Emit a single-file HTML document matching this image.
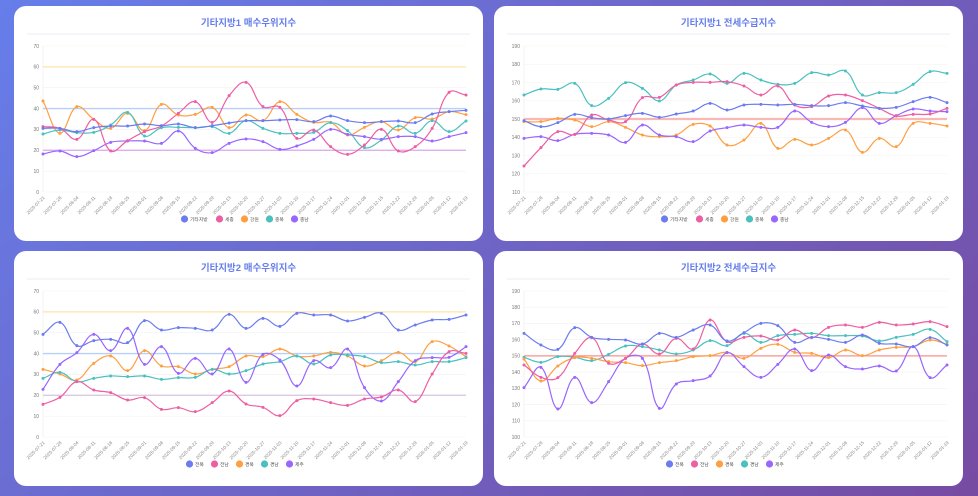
<!DOCTYPE html>
<html><head><meta charset="utf-8">
<style>
html,body{margin:0;padding:0;width:978px;height:496px;overflow:hidden;}
body{background:linear-gradient(135deg,#667eea 0%,#764ba2 100%);font-family:"Liberation Sans","Noto Sans CJK KR",sans-serif;}
svg{position:absolute;left:0;top:0;}
</style></head><body>
<svg id="s" width="978" height="496" xmlns="http://www.w3.org/2000/svg"></svg>
<script>
const S=document.getElementById('s');
let html='';
const dates=['2025-07-21','2025-07-28','2025-08-04','2025-08-11','2025-08-18','2025-08-25','2025-09-01','2025-09-08','2025-09-15','2025-09-22','2025-09-29','2025-10-13','2025-10-20','2025-10-27','2025-11-03','2025-11-10','2025-11-17','2025-11-24','2025-12-01','2025-12-08','2025-12-15','2025-12-22','2025-12-29','2026-01-05','2026-01-12','2026-01-19'];
const C={b:'#6b7cf0',p:'#ee5ea3',o:'#ff9f40',t:'#4bc0c0',v:'#9966ff'};
function curve(pts){
  const t=0.4;let cps=[];
  for(let i=0;i<pts.length;i++){
    const pr=pts[Math.max(0,i-1)],cu=pts[i],nx=pts[Math.min(pts.length-1,i+1)];
    const d01=Math.hypot(cu[0]-pr[0],cu[1]-pr[1]),d12=Math.hypot(nx[0]-cu[0],nx[1]-cu[1]);
    let fa=d01/(d01+d12||1),fb=d12/(d01+d12||1);fa*=t;fb*=t;
    cps.push({p:[cu[0]-fa*(nx[0]-pr[0]),cu[1]-fa*(nx[1]-pr[1])],n:[cu[0]+fb*(nx[0]-pr[0]),cu[1]+fb*(nx[1]-pr[1])]});
  }
  let d='M'+pts[0][0].toFixed(1)+','+pts[0][1].toFixed(1);
  for(let i=1;i<pts.length;i++){
    const a=cps[i-1].n,b=cps[i].p;
    d+=` C${a[0].toFixed(1)},${a[1].toFixed(1)} ${b[0].toFixed(1)},${b[1].toFixed(1)} ${pts[i][0].toFixed(1)},${pts[i][1].toFixed(1)}`;
  }
  return d;
}
function chart(cfg){
  const {cx,cy,title,x0,x1,yt,yb,vmax,vmin,step,refs,series,legend}=cfg;
  html+=`<rect x="${cx}" y="${cy}" width="469" height="235" rx="12" fill="#fff"/>`;
  html+=`<text x="${cx+234.5}" y="${cy+20}" text-anchor="middle" font-size="9.5" font-weight="bold" fill="#667eea">${title}</text>`;
  html+=`<line x1="${cx+13}" x2="${cx+456}" y1="${cy+28}" y2="${cy+28}" stroke="#e8ecf5" stroke-width="1"/>`;
  const n=(vmax-vmin)/step;
  for(let i=0;i<=n;i++){
    const y=yb-(yb-yt)*i/n;
    html+=`<line x1="${x0}" x2="${x1}" y1="${y}" y2="${y}" stroke="#f2f2f2" stroke-width="0.6"/>`;
    html+=`<text x="${x0-4}" y="${y+1.8}" text-anchor="end" font-size="5" fill="#777">${vmin+step*i}</text>`;
  }
  html+=`<line x1="${x0}" x2="${x0}" y1="${yt}" y2="${yb}" stroke="#ebebeb" stroke-width="0.6"/>`;
  const dx=(x1-x0)/25;
  dates.forEach((d,i)=>{const x=x0+dx*i;
    html+=`<text transform="translate(${x+2},${yb+6}) rotate(-45)" text-anchor="end" font-size="4.6" fill="#888">${d}</text>`;});
  refs.forEach(r=>{const y=yb-(r[0]-vmin)/(vmax-vmin)*(yb-yt);
    html+=`<line x1="${x0}" x2="${x1}" y1="${y}" y2="${y}" stroke="${r[1]}" stroke-width="${r[2]||1.3}"/>`;});
  series.forEach(s=>{
    const pts=s[1].map((v,i)=>[x0+dx*i,s[2]+v/3]);
    html+=`<path d="${curve(pts)}" fill="none" stroke="${s[0]}" stroke-width="1.2"/>`;
    pts.forEach(p=>html+=`<circle cx="${p[0]}" cy="${p[1]}" r="1.5" fill="${s[0]}"/>`);
  });
  // legend
  let w=legend.reduce((a,l)=>a+11+l[1].length*5+4,0);
  let lx=cx+234.5-w/2,ly=cy+213;
  legend.forEach(l=>{
    html+=`<circle cx="${lx+3.5}" cy="${ly}" r="3.6" fill="${l[0]}"/>`;
    html+=`<text x="${lx+9}" y="${ly+1.8}" font-size="4.8" fill="#555">${l[1]}</text>`;
    lx+=11+l[1].length*5+4;
  });
}
const L1=[[C.b,'기타지방'],[C.p,'세종'],[C.o,'강원'],[C.t,'충북'],[C.v,'충남']];
const L2=[[C.b,'전북'],[C.p,'전남'],[C.o,'경북'],[C.t,'경남'],[C.v,'제주']];
chart({cx:14,cy:6,title:'기타지방1 매수우위지수',x0:43,x1:466,yt:46,yb:192,vmax:70,vmin:0,step:10,
 refs:[[60,'#fde3aa'],[40,'#b6cffb'],[20,'#dba4ee']],legend:L1,
 series:[
 [C.o,[63,160,80,118,145,100,152,73,105,103,82,143,105,122,65,103,127,127,165,142,125,150,113,117,95,104],80],
 [C.t,[162,150,158,157,135,97,168,143,142,143,140,160,122,145,160,160,157,128,152,203,180,138,160,122,155,123],80],
 [C.v,[222,213,230,212,187,183,183,190,153,205,218,190,177,185,208,198,178,148,163,170,178,170,170,183,170,158],80],
 [C.p,[140,145,178,118,213,182,155,138,100,65,127,47,7,80,82,175,150,200,223,195,148,213,200,145,37,45],80],
 [C.b,[145,145,155,143,138,138,132,137,132,143,137,129,122,122,120,119,125,108,122,128,125,123,128,102,95,91],80]
 ]});
chart({cx:494,cy:6,title:'기타지방1 전세수급지수',x0:524,x1:947,yt:46,yb:192,vmax:190,vmin:110,step:10,
 refs:[[150,'#f9b8b3',2.2]],legend:L1,
 series:[
 [C.t,[165,147,148,130,197,175,128,145,183,135,120,102,130,100,120,133,130,98,105,93,165,158,158,133,95,100],40],
 [C.o,[245,245,235,240,260,245,262,285,290,285,253,258,315,300,250,325,298,315,295,270,337,295,320,250,250,258],40],
 [C.v,[295,290,302,283,280,285,307,255,285,290,305,273,263,255,262,262,213,247,260,247,203,250,227,207,213,215],40],
 [C.p,[378,323,275,283,225,240,245,173,172,135,127,127,125,138,165,138,195,200,168,165,182,205,228,223,222,205],40],
 [C.b,[242,260,248,223,233,237,227,220,232,222,213,190,210,195,193,195,193,197,197,188,198,205,202,185,172,188],40]
 ]});
chart({cx:14,cy:251,title:'기타지방2 매수우위지수',x0:43,x1:466,yt:291,yb:437,vmax:70,vmin:0,step:10,
 refs:[[60,'#fde3aa'],[40,'#b6cffb'],[20,'#d7c3dc']],legend:L2,
 series:[
 [C.o,[208,222,240,190,168,212,152,198,200,222,208,200,168,170,147,168,168,157,168,198,182,157,185,125,138,170],300],
 [C.t,[235,217,245,235,228,230,228,238,233,232,208,222,212,192,185,168,192,165,165,170,188,185,195,185,185,173],300],
 [C.v,[268,193,158,103,152,85,193,140,220,175,222,147,247,163,180,258,182,203,147,263,303,245,182,173,172,140],300],
 [C.p,[313,292,245,270,278,300,293,328,323,335,308,273,312,322,347,302,297,308,316,297,291,270,305,222,155,160],300],
 [C.b,[103,67,137,122,118,128,62,90,83,85,90,43,85,55,79,40,45,45,63,52,40,90,75,60,58,45],300]
 ]});
chart({cx:494,cy:251,title:'기타지방2 전세수급지수',x0:524,x1:947,yt:291,yb:437,vmax:190,vmin:100,step:10,
 refs:[[150,'#f99088',1.2]],legend:L2,
 series:[
 [C.t,[202,217,200,202,212,193,168,170,180,192,180,152,167,130,157,137,133,130,137,137,138,153,142,133,118,155],290],
 [C.o,[207,273,228,203,205,215,218,227,218,212,200,197,187,205,175,163,187,190,203,180,197,180,172,170,150,163],290],
 [C.v,[293,232,357,262,338,275,205,205,355,282,272,258,188,230,262,223,177,242,195,230,237,228,243,170,263,225],290],
 [C.p,[225,262,263,190,143,220,205,162,192,145,177,90,155,142,138,150,120,143,112,105,112,97,105,102,95,110],290],
 [C.b,[130,165,178,113,142,148,150,162,130,142,120,105,153,128,100,107,157,142,148,157,135,160,162,170,143,165],290]
 ]});
S.innerHTML=html;
</script>
</body></html>
